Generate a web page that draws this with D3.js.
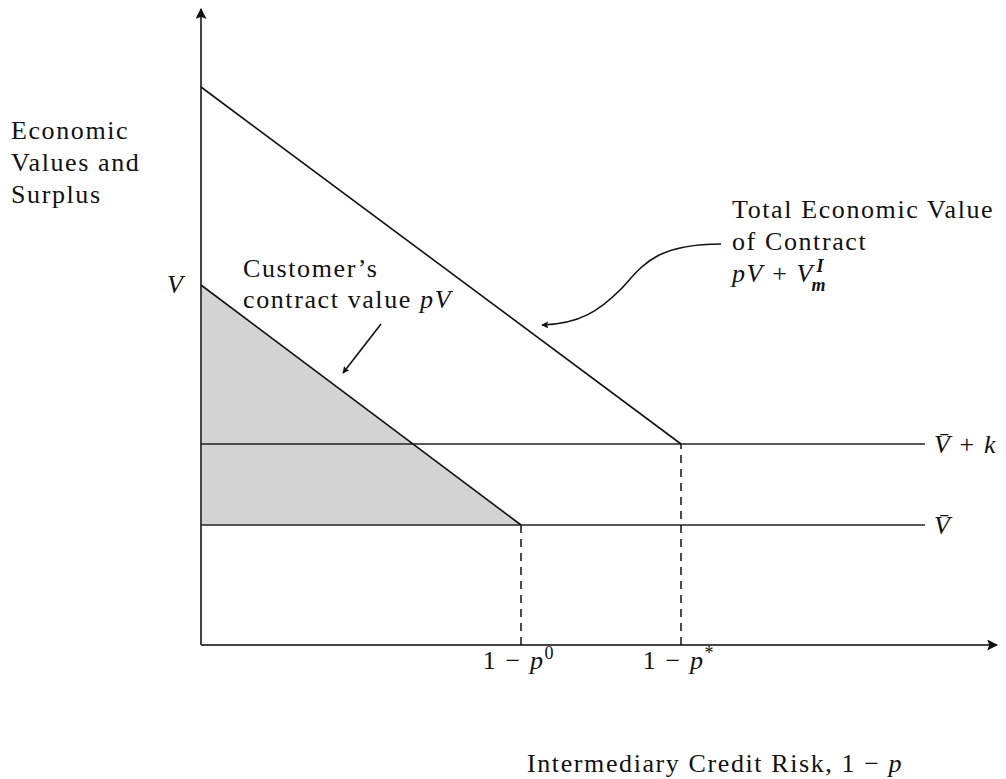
<!DOCTYPE html>
<html>
<head>
<meta charset="utf-8">
<script src="https://cdn.jsdelivr.net/npm/d3@7"></script>
<style>
  body { margin: 0; background: #fff; }
  text { font-family: 'Liberation Serif', 'DejaVu Serif', serif; fill: #111; letter-spacing: 1.6px; }
  .math { font-style: italic; }
</style>
</head>
<body>
<div id="chart"></div>
<script>
// values in chart units (x: credit risk, y: economic value)
const kinkRisk = [4, 6];                 // 1 - p0, 1 - p*
const kinkLabels = ['0', '*'];           // superscripts of p
const outsideValues = [2, 3.35];         // V-bar, V-bar + k
const customerLine = [[0, 6], [4, 2]];   // pV
const totalLine = [[0, 9.3], [6, 3.35]]; // pV + Vm^I
const flatEnd = 9.05;
const xMax = 9.95, yMax = 10.6;

const width = 1006, height = 779;
const svg = d3.select('#chart').append('svg')
  .attr('width', width)
  .attr('height', height);

/* Scale */
const xScale = d3.scaleLinear().domain([0, 10]).range([201, 1001]);
const yScale = d3.scaleLinear().domain([0, yMax]).range([645, 9]);

const defs = svg.append('defs');
const addHead = (id, size) => defs.append('marker')
  .attr('id', id)
  .attr('viewBox', '0 0 10 10')
  .attr('refX', 9).attr('refY', 5)
  .attr('markerWidth', size).attr('markerHeight', size)
  .attr('markerUnits', 'userSpaceOnUse')
  .attr('orient', 'auto')
  .append('path')
  .attr('d', 'M0,0 L10,5 L0,10 L2,5 Z')
  .attr('fill', '#111');
addHead('head', 7);
addHead('axisHead', 11);

const line = d3.line()
  .x(d => xScale(d[0]))
  .y(d => yScale(d[1]));

/* shaded customer surplus */
svg.append('path')
  .attr('d', line([customerLine[0], customerLine[1], [0, outsideValues[0]]]) + 'Z')
  .attr('fill', '#d3d3d3')
  .attr('stroke', 'none');

/* axes */
svg.append('path')
  .attr('d', line([[0, 0], [xMax, 0]]))
  .attr('stroke', '#444').attr('stroke-width', 2)
  .attr('marker-end', 'url(#axisHead)');
svg.append('path')
  .attr('d', line([[0, 0], [0, yMax]]))
  .attr('stroke', '#444').attr('stroke-width', 2)
  .attr('marker-end', 'url(#axisHead)');

/* flat outside options */
svg.selectAll('.flat')
  .data(outsideValues).enter()
  .append('path')
  .attr('class', 'flat')
  .attr('d', v => line([[0, v], [flatEnd, v]]))
  .attr('stroke', '#222').attr('stroke-width', 1.5);

/* diagonals */
[customerLine, totalLine].forEach(l => {
  svg.append('path')
    .attr('d', line(l))
    .attr('fill', 'none')
    .attr('stroke', '#111').attr('stroke-width', 1.6);
});

/* dashed drop lines */
svg.selectAll('.drop')
  .data(kinkRisk).enter()
  .append('path')
  .attr('class', 'drop')
  .attr('d', (r, i) => line([[r, 0], [r, outsideValues[i]]]))
  .attr('stroke', '#111').attr('stroke-width', 1.5)
  .attr('stroke-dasharray', '8,6');

/* tick labels */
const ticks = svg.selectAll('.tick')
  .data(kinkRisk).enter()
  .append('text')
  .attr('class', 'tick')
  .attr('x', r => xScale(r) - 2)
  .attr('y', 669)
  .attr('text-anchor', 'middle')
  .style('font-size', '26px');
ticks.append('tspan').text('1 − ');
ticks.append('tspan').attr('class', 'math').text('p');
ticks.append('tspan').attr('dy', -10).style('font-size', '18px').text((r, i) => kinkLabels[i]);

/* value labels at the right */
const vbar = (g, x, y) => {
  const t = g.append('text').attr('x', x).attr('y', y).style('font-size', '26px');
  t.append('tspan').attr('class', 'math').text('V\u0304');
  return t;
};
const vk = vbar(svg, 934, yScale(outsideValues[1]) + 9);
vk.append('tspan').text(' + ');
vk.append('tspan').attr('class', 'math').text('k');
vbar(svg, 934, yScale(outsideValues[0]) + 9);

svg.append('text')
  .attr('class', 'math')
  .attr('x', 167).attr('y', yScale(customerLine[0][1]) + 8)
  .style('font-size', '26px')
  .text('V');

/* y title */
['Economic', 'Values and', 'Surplus'].forEach((s, i) => {
  svg.append('text')
    .attr('x', 11).attr('y', 139 + i * 32)
    .style('font-size', '26px')
    .text(s);
});

/* x title */
const xt = svg.append('text')
  .attr('x', 527).attr('y', 772)
  .style('font-size', '26px');
xt.append('tspan').text('Intermediary Credit Risk, 1 − ');
xt.append('tspan').attr('class', 'math').text('p');

/* customer annotation */
svg.append('text').attr('x', 243).attr('y', 277).style('font-size', '26px').text('Customer\u2019s');
const cv = svg.append('text').attr('x', 243).attr('y', 308).style('font-size', '26px');
cv.append('tspan').text('contract value ');
cv.append('tspan').attr('class', 'math').text('pV');
svg.append('path')
  .attr('d', 'M381,324 L343,373')
  .attr('stroke', '#111').attr('stroke-width', 1.6)
  .attr('marker-end', 'url(#head)');

/* total annotation */
svg.append('text').attr('x', 732).attr('y', 218).style('font-size', '26px').text('Total Economic Value');
svg.append('text').attr('x', 732).attr('y', 250).style('font-size', '26px').text('of Contract');
const tv = svg.append('text').attr('x', 732).attr('y', 282).style('font-size', '26px');
tv.append('tspan').attr('class', 'math').text('pV');
tv.append('tspan').text(' + ');
tv.append('tspan').attr('class', 'math').text('V');
const tvEnd = tv.node().getBBox();
const scriptX = tvEnd.x + tvEnd.width;
svg.append('text').attr('class', 'math')
  .attr('x', scriptX + 1).attr('y', 272)
  .style('font-size', '18px').style('font-weight', 'bold')
  .text('I');
svg.append('text').attr('class', 'math')
  .attr('x', scriptX - 4).attr('y', 291)
  .style('font-size', '18px').style('font-weight', 'bold')
  .text('m');
svg.append('path')
  .attr('d', 'M721,244 C650,244 640,270 620,290 C600,310 580,324 542,325')
  .attr('fill', 'none')
  .attr('stroke', '#111').attr('stroke-width', 1.6)
  .attr('marker-end', 'url(#head)');
</script>
</body>
</html>
